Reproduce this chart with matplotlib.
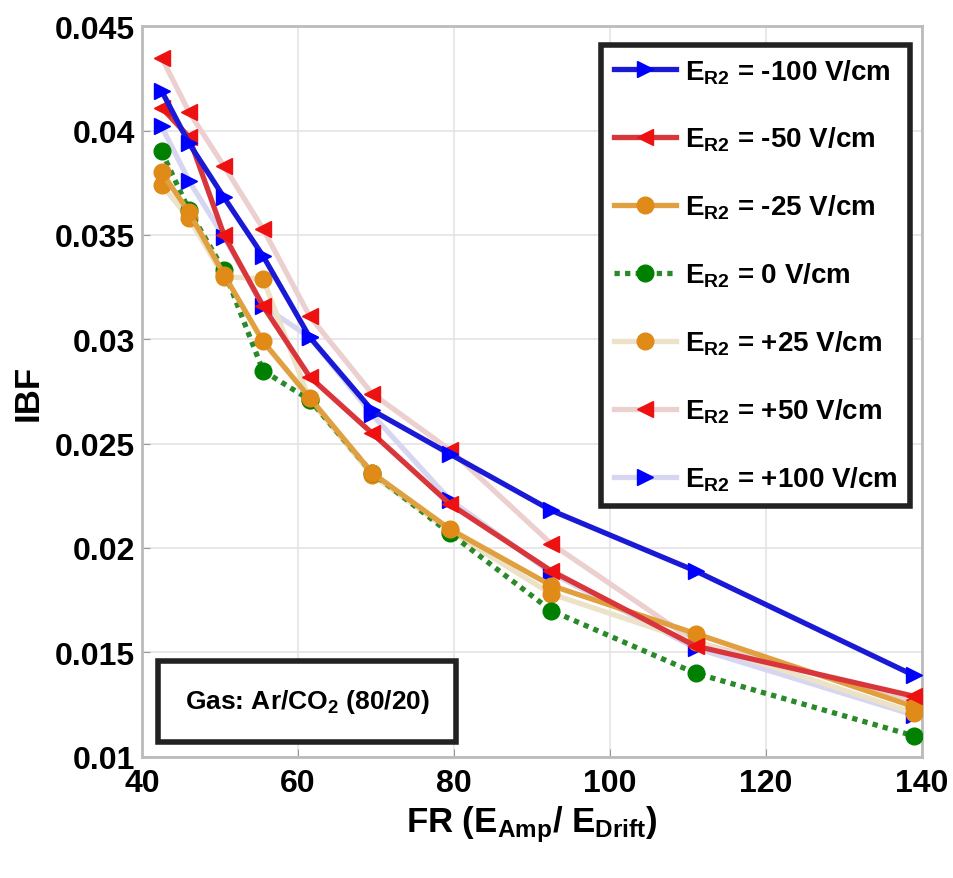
import matplotlib
matplotlib.use("Agg")
import matplotlib.pyplot as plt
from matplotlib.ticker import FuncFormatter

plt.rcParams["font.family"] = ["Liberation Sans", "DejaVu Sans"]
plt.rcParams["font.weight"] = "bold"
plt.rcParams["mathtext.fontset"] = "custom"
plt.rcParams["mathtext.rm"] = "Liberation Sans:bold"
plt.rcParams["mathtext.bf"] = "Liberation Sans:bold"
plt.rcParams["mathtext.it"] = "Liberation Sans:bold"

# field ratio E_Amp / E_Drift
fr = [42.5, 46, 50.5, 55.5, 61.5, 69.5, 79.5, 92.5, 111, 139]

# ion back flow for each reverse field E_R2
ibf_m100 = [0.0419, 0.0394, 0.0368, 0.0340, 0.0301, 0.0266, 0.0245, 0.0218, 0.0189, 0.0139]
ibf_m50 = [0.0411, 0.0397, 0.0350, 0.0316, 0.0282, 0.0255, 0.0221, 0.0189, 0.0153, 0.0129]
ibf_m25 = [0.0380, 0.0361, 0.0331, 0.0299, 0.0272, 0.0236, 0.0209, 0.0182, 0.0159, 0.0124]
ibf_0 = [0.0390, 0.0362, 0.0333, 0.0285, 0.0271, 0.0236, 0.0207, 0.0170, 0.0140, 0.0110]
ibf_p25 = [0.0374, 0.0358, 0.0330, 0.0329, 0.0271, 0.0235, 0.0208, 0.0178, 0.0155, 0.0121]
ibf_p50 = [0.0435, 0.0409, 0.0383, 0.0353, 0.0311, 0.0274, 0.0247, 0.0202, 0.0155, 0.0127]
ibf_p100 = [0.0402, 0.0376, 0.0349, 0.0316, 0.0301, 0.0264, 0.0223, 0.0188, 0.0152, 0.0120]

labels = ["-100", "-50", "-25", "0", "+25", "+50", "+100"]

# (data, line colour, marker colour, marker, linestyle)
series = [
    (ibf_m100, "#1a1ad6", "#0000ff", ">", "-"),
    (ibf_m50, "#d8363a", "#ee1111", "<", "-"),
    (ibf_m25, "#e0a040", "#e08a18", "o", "-"),
    (ibf_0, "#2a8a2a", "#008000", "o", (0, (1, 1))),
    (ibf_p25, "#ece2c8", "#e08a18", "o", "-"),
    (ibf_p50, "#ecd0d0", "#ee1111", "<", "-"),
    (ibf_p100, "#d6d6f0", "#0000ff", ">", "-"),
]

fig = plt.figure(figsize=(9.54, 8.79), dpi=100)
ax = fig.add_axes([0.149, 0.138, 0.817, 0.831])

for i, (vals, lc, mc, mk, ls) in enumerate(series):
    ax.plot(fr, vals, color=lc, linestyle=ls, linewidth=3.8,
            marker=mk, markersize=12, markerfacecolor=mc, markeredgecolor=mc,
            label=r"E$_{\mathrm{R2}}$ = " + labels[i] + " V/cm",
            zorder=3 + (7 - i) * 0.1)

ax.set_xlim(40, 140)
ax.set_ylim(0.01, 0.045)
ax.set_xticks([40, 60, 80, 100, 120, 140])
ax.set_yticks([0.01, 0.015, 0.02, 0.025, 0.03, 0.035, 0.04, 0.045])
ax.yaxis.set_major_formatter(FuncFormatter(lambda v, p: "%g" % round(v, 4)))
ax.tick_params(labelsize=23, direction="in", length=6, color="#999999", pad=5)
ax.tick_params(axis="x", pad=8)
ax.grid(True, color="#e4e4e4", linewidth=1.2)
ax.set_axisbelow(True)
for sp in ax.spines.values():
    sp.set_color("#bbbbbb")
    sp.set_linewidth(2)

ax.set_ylabel("IBF", fontsize=25, fontweight="bold")
ax.yaxis.set_label_coords(-0.125, 0.5)
ax.set_xlabel(r"FR (E$_{\mathrm{Amp}}$/ E$_{\mathrm{Drift}}$)", fontsize=25,
              fontweight="bold", labelpad=4)

leg = ax.legend(loc="upper right", bbox_to_anchor=(0.985, 0.975), borderaxespad=0,
                fontsize=20, handlelength=2.25, labelspacing=1.42, borderpad=0.45,
                handletextpad=0.3, fancybox=False, framealpha=1)
leg.get_frame().set_edgecolor("#222222")
leg.get_frame().set_linewidth(4)

ax.text(0.212, 0.076, r"Gas: Ar/CO$_2$ (80/20)", transform=ax.transAxes,
        fontsize=19, ha="center", va="center", zorder=10,
        bbox=dict(boxstyle="square,pad=1.0", facecolor="white",
                  edgecolor="#222222", linewidth=4))

fig.savefig("out.png", dpi=100)
